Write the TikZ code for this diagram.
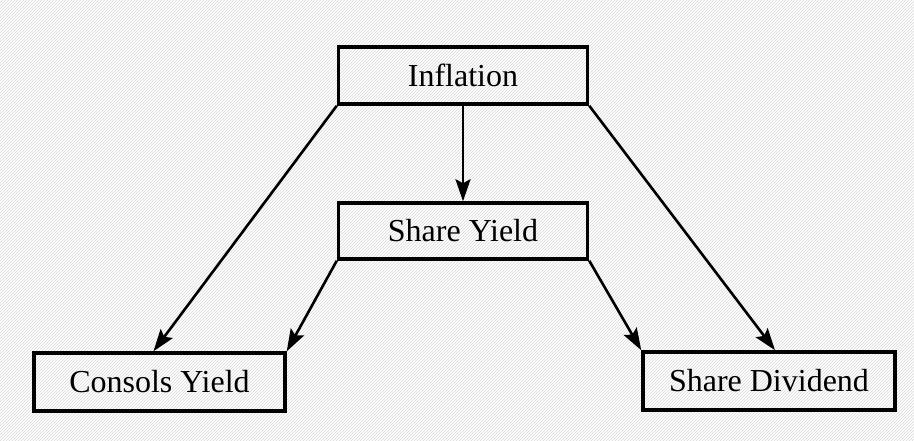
\documentclass[tikz,border=0pt]{standalone}
\usepackage{fontspec}
\setmainfont{Liberation Serif}
\usetikzlibrary{patterns,arrows.meta}
\begin{document}
\begin{tikzpicture}[x=1pt,y=-1pt,
  box/.style={draw=black,line width=3.5pt,inner sep=0pt,font=\fontsize{32}{37}\selectfont},
  conn/.style={line width=2.6pt,-{Stealth[length=22pt,width=15pt,inset=4pt]}}]
\fill[white] (0,0) rectangle (914,441);
\fill[pattern=north east lines,pattern color=gray!30] (0,0) rectangle (914,441);
\useasboundingbox (0,0) rectangle (914,441);
\node[box,minimum width=249pt,minimum height=57pt] (inf) at (463,75.5) {Inflation};
\node[box,minimum width=249pt,minimum height=56pt] (sy) at (463,231) {Share Yield};
\node[box,minimum width=251pt,minimum height=58pt] (cy) at (159.5,382) {Consols Yield};
\node[box,minimum width=252pt,minimum height=58pt] (sd) at (769,381) {Share Dividend};
\draw[conn] (inf.south) -- (sy.north);
\draw[conn] (inf.south west) -- ([xshift=-6pt]cy.north);
\draw[conn] (sy.south west) -- (cy.north east);
\draw[conn] (inf.south east) -- ([xshift=6pt]sd.north);
\draw[conn] (sy.south east) -- (sd.north west);
\end{tikzpicture}
\end{document}
